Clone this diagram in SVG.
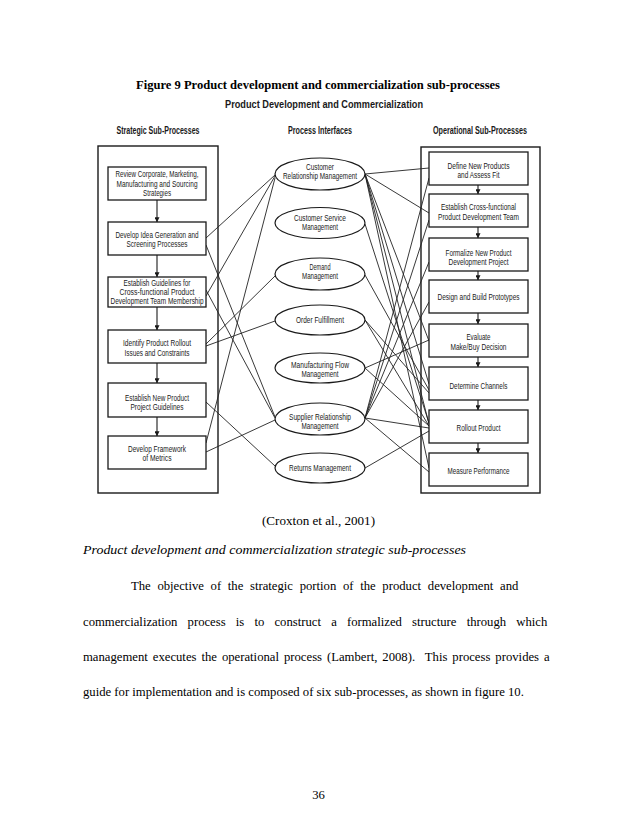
<svg xmlns="http://www.w3.org/2000/svg" width="638" height="826" viewBox="0 0 638 826">
<defs>
<marker id="ah" viewBox="0 0 8 8" refX="7.5" refY="4" markerWidth="5" markerHeight="5" orient="auto" markerUnits="userSpaceOnUse">
<path d="M0,0 L8,4 L0,8 Z" fill="#1a1a1a"/>
</marker>
<style>
.frame{fill:none;stroke:#1a1a1a;stroke-width:1.4}
.box{fill:#fff;stroke:#1a1a1a;stroke-width:1.3}
.ell{fill:#fff;stroke:#1a1a1a;stroke-width:1.2}
.lbl{font-family:"Liberation Sans",Arial,sans-serif;font-size:8.8px;fill:#1a1a1a;text-anchor:middle}
.hdr{font-family:"Liberation Sans",Arial,sans-serif;font-size:10px;font-weight:bold;fill:#1a1a1a;text-anchor:middle}
.ser{font-family:"Liberation Serif","Times New Roman",serif;font-size:12.7px;fill:#000}
.con line{stroke:#222;stroke-width:0.9}
.arr line{stroke:#1a1a1a;stroke-width:1.1;marker-end:url(#ah)}
</style>
</defs>
<rect width="638" height="826" fill="#fff"/>

<text class="ser" x="318" y="89" text-anchor="middle" font-weight="bold" font-size="12" textLength="364" lengthAdjust="spacingAndGlyphs">Figure 9 Product development and commercialization sub-processes</text>
<text class="hdr" x="324" y="108" font-size="12" textLength="198" lengthAdjust="spacingAndGlyphs">Product Development and Commercialization</text>
<text class="hdr" x="158" y="134" textLength="83" lengthAdjust="spacingAndGlyphs">Strategic Sub-Processes</text>
<text class="hdr" x="320" y="134" textLength="64" lengthAdjust="spacingAndGlyphs">Process Interfaces</text>
<text class="hdr" x="480" y="134" textLength="94" lengthAdjust="spacingAndGlyphs">Operational Sub-Processes</text>

<g id="frames">
<rect class="frame" x="98" y="146" width="120" height="347"/>
<rect class="frame" x="421" y="147" width="119" height="346"/>
</g>

<g id="connectors" class="con">
<line x1="206" y1="238" x2="275" y2="175"/>
<line x1="206" y1="296" x2="275" y2="176"/>
<line x1="206" y1="443" x2="275" y2="178"/>
<line x1="206" y1="245" x2="275" y2="417"/>
<line x1="206" y1="290" x2="275" y2="418"/>
<line x1="206" y1="344" x2="275" y2="276"/>
<line x1="206" y1="346" x2="275" y2="321"/>
<line x1="206" y1="402" x2="275" y2="466"/>
<line x1="206" y1="452" x2="275" y2="420"/>

<line x1="365" y1="174" x2="429" y2="168"/>
<line x1="365" y1="174" x2="429" y2="213"/>
<line x1="365" y1="174" x2="429" y2="341"/>
<line x1="365" y1="174" x2="429" y2="384"/>
<line x1="365" y1="174" x2="429" y2="424"/>
<line x1="365" y1="174" x2="429" y2="468"/>
<line x1="365" y1="224" x2="429" y2="423"/>
<line x1="365" y1="275" x2="429" y2="390"/>
<line x1="365" y1="320" x2="429" y2="393"/>
<line x1="365" y1="320" x2="429" y2="426"/>
<line x1="365" y1="368" x2="429" y2="340"/>
<line x1="365" y1="368" x2="429" y2="426"/>
<line x1="365" y1="418" x2="429" y2="178"/>
<line x1="365" y1="418" x2="429" y2="220"/>
<line x1="365" y1="418" x2="429" y2="262"/>
<line x1="365" y1="418" x2="429" y2="302"/>
<line x1="365" y1="418" x2="429" y2="428"/>
<line x1="365" y1="418" x2="429" y2="472"/>
<line x1="365" y1="468" x2="429" y2="431"/>
</g>

<g id="flow-arrows" class="arr">
<line x1="157" y1="200" x2="157" y2="222"/>
<line x1="157" y1="255" x2="157" y2="277"/>
<line x1="157" y1="307" x2="157" y2="330"/>
<line x1="157" y1="363" x2="157" y2="383"/>
<line x1="157" y1="417" x2="157" y2="436"/>
<line x1="478" y1="185" x2="478" y2="194"/>
<line x1="478" y1="227" x2="478" y2="238"/>
<line x1="478" y1="271" x2="478" y2="280"/>
<line x1="478" y1="313" x2="478" y2="324"/>
<line x1="478" y1="357" x2="478" y2="367"/>
<line x1="478" y1="400" x2="478" y2="410"/>
<line x1="478" y1="443" x2="478" y2="453"/>
</g>

<g id="s1"><rect class="box" x="108" y="167" width="98" height="33"/>
<text class="lbl" x="157" y="177" textLength="83" lengthAdjust="spacingAndGlyphs">Review Corporate, Marketing,</text>
<text class="lbl" x="157" y="186.5" textLength="81" lengthAdjust="spacingAndGlyphs">Manufacturing and Sourcing</text>
<text class="lbl" x="157" y="196" textLength="28" lengthAdjust="spacingAndGlyphs">Strategies</text></g>
<g id="s2"><rect class="box" x="108" y="222" width="98" height="33"/>
<text class="lbl" x="157" y="238" textLength="83" lengthAdjust="spacingAndGlyphs">Develop Idea Generation and</text>
<text class="lbl" x="157" y="247" textLength="61" lengthAdjust="spacingAndGlyphs">Screening Processes</text></g>
<g id="s3"><rect class="box" x="108" y="277" width="98" height="30"/>
<text class="lbl" x="157" y="286" textLength="67" lengthAdjust="spacingAndGlyphs">Establish Guidelines for</text>
<text class="lbl" x="157" y="295" textLength="75" lengthAdjust="spacingAndGlyphs">Cross-functional Product</text>
<text class="lbl" x="157" y="304" textLength="93" lengthAdjust="spacingAndGlyphs">Development Team Membership</text></g>
<g id="s4"><rect class="box" x="108" y="330" width="98" height="33"/>
<text class="lbl" x="157" y="346" textLength="68" lengthAdjust="spacingAndGlyphs">Identify Product Rollout</text>
<text class="lbl" x="157" y="356" textLength="65" lengthAdjust="spacingAndGlyphs">Issues and Constraints</text></g>
<g id="s5"><rect class="box" x="108" y="383" width="98" height="34"/>
<text class="lbl" x="157" y="401" textLength="64" lengthAdjust="spacingAndGlyphs">Establish New Product</text>
<text class="lbl" x="157" y="410" textLength="53" lengthAdjust="spacingAndGlyphs">Project Guidelines</text></g>
<g id="s6"><rect class="box" x="108" y="436" width="98" height="33"/>
<text class="lbl" x="157" y="452" textLength="58" lengthAdjust="spacingAndGlyphs">Develop Framework</text>
<text class="lbl" x="157" y="461" textLength="29" lengthAdjust="spacingAndGlyphs">of Metrics</text></g>

<g id="p1"><ellipse class="ell" cx="320" cy="174" rx="45" ry="16"/>
<text class="lbl" x="320" y="170" textLength="28" lengthAdjust="spacingAndGlyphs">Customer</text>
<text class="lbl" x="320" y="179" textLength="74" lengthAdjust="spacingAndGlyphs">Relationship Management</text></g>
<g id="p2"><ellipse class="ell" cx="320" cy="223" rx="45" ry="15.5"/>
<text class="lbl" x="320" y="221" textLength="52" lengthAdjust="spacingAndGlyphs">Customer Service</text>
<text class="lbl" x="320" y="230" textLength="36" lengthAdjust="spacingAndGlyphs">Management</text></g>
<g id="p3"><ellipse class="ell" cx="320" cy="274" rx="45" ry="16"/>
<text class="lbl" x="320" y="270" textLength="21" lengthAdjust="spacingAndGlyphs">Demand</text>
<text class="lbl" x="320" y="279" textLength="36" lengthAdjust="spacingAndGlyphs">Management</text></g>
<g id="p4"><ellipse class="ell" cx="320" cy="320" rx="45" ry="15"/>
<text class="lbl" x="320" y="323" textLength="48" lengthAdjust="spacingAndGlyphs">Order Fulfillment</text></g>
<g id="p5"><ellipse class="ell" cx="320" cy="368" rx="45" ry="15"/>
<text class="lbl" x="320" y="368" textLength="58" lengthAdjust="spacingAndGlyphs">Manufacturing Flow</text>
<text class="lbl" x="320" y="377" textLength="37" lengthAdjust="spacingAndGlyphs">Management</text></g>
<g id="p6"><ellipse class="ell" cx="320" cy="419" rx="45" ry="16"/>
<text class="lbl" x="320" y="420" textLength="62" lengthAdjust="spacingAndGlyphs">Supplier Relationship</text>
<text class="lbl" x="320" y="429" textLength="37" lengthAdjust="spacingAndGlyphs">Management</text></g>
<g id="p7"><ellipse class="ell" cx="320" cy="468" rx="45" ry="15"/>
<text class="lbl" x="320" y="471" textLength="62" lengthAdjust="spacingAndGlyphs">Returns Management</text></g>

<g id="o1"><rect class="box" x="429" y="152" width="99" height="33"/>
<text class="lbl" x="478.5" y="169" textLength="62" lengthAdjust="spacingAndGlyphs">Define New Products</text>
<text class="lbl" x="478.5" y="178" textLength="42" lengthAdjust="spacingAndGlyphs">and Assess Fit</text></g>
<g id="o2"><rect class="box" x="429" y="194" width="99" height="33"/>
<text class="lbl" x="478.5" y="210" textLength="75" lengthAdjust="spacingAndGlyphs">Establish Cross-functional</text>
<text class="lbl" x="478.5" y="220" textLength="81" lengthAdjust="spacingAndGlyphs">Product Development Team</text></g>
<g id="o3"><rect class="box" x="429" y="238" width="99" height="33"/>
<text class="lbl" x="478.5" y="256" textLength="66" lengthAdjust="spacingAndGlyphs">Formalize New Product</text>
<text class="lbl" x="478.5" y="265" textLength="60" lengthAdjust="spacingAndGlyphs">Development Project</text></g>
<g id="o4"><rect class="box" x="429" y="280" width="99" height="33"/>
<text class="lbl" x="478.5" y="300" textLength="82" lengthAdjust="spacingAndGlyphs">Design and Build Prototypes</text></g>
<g id="o5"><rect class="box" x="429" y="324" width="99" height="33"/>
<text class="lbl" x="478.5" y="340" textLength="24" lengthAdjust="spacingAndGlyphs">Evaluate</text>
<text class="lbl" x="478.5" y="350" textLength="56" lengthAdjust="spacingAndGlyphs">Make/Buy Decision</text></g>
<g id="o6"><rect class="box" x="429" y="367" width="99" height="33"/>
<text class="lbl" x="478.5" y="389" textLength="58" lengthAdjust="spacingAndGlyphs">Determine Channels</text></g>
<g id="o7"><rect class="box" x="429" y="410" width="99" height="33"/>
<text class="lbl" x="478.5" y="431" textLength="44" lengthAdjust="spacingAndGlyphs">Rollout Product</text></g>
<g id="o8"><rect class="box" x="429" y="453" width="99" height="33"/>
<text class="lbl" x="478.5" y="474" textLength="62" lengthAdjust="spacingAndGlyphs">Measure Performance</text></g>

<g id="page-text">
<text class="ser" x="318.5" y="525" text-anchor="middle" textLength="113" lengthAdjust="spacingAndGlyphs">(Croxton et al., 2001)</text>
<text class="ser" x="83" y="554" font-style="italic" font-size="13.5" textLength="383" lengthAdjust="spacingAndGlyphs">Product development and commercialization strategic sub-processes</text>
<text class="ser" x="131" y="590" word-spacing="3.5">The objective of the strategic portion of the product development and</text>
<text class="ser" x="83" y="626" word-spacing="7">commercialization process is to construct a formalized structure through which</text>
<text class="ser" x="83" y="661" word-spacing="1.8" xml:space="preserve">management executes the operational process (Lambert, 2008).  This process provides a</text>
<text class="ser" x="83" y="696">guide for implementation and is composed of six sub-processes, as shown in figure 10.</text>
<text class="ser" x="318.5" y="799" text-anchor="middle" font-size="11">36</text>
</g>
</svg>
